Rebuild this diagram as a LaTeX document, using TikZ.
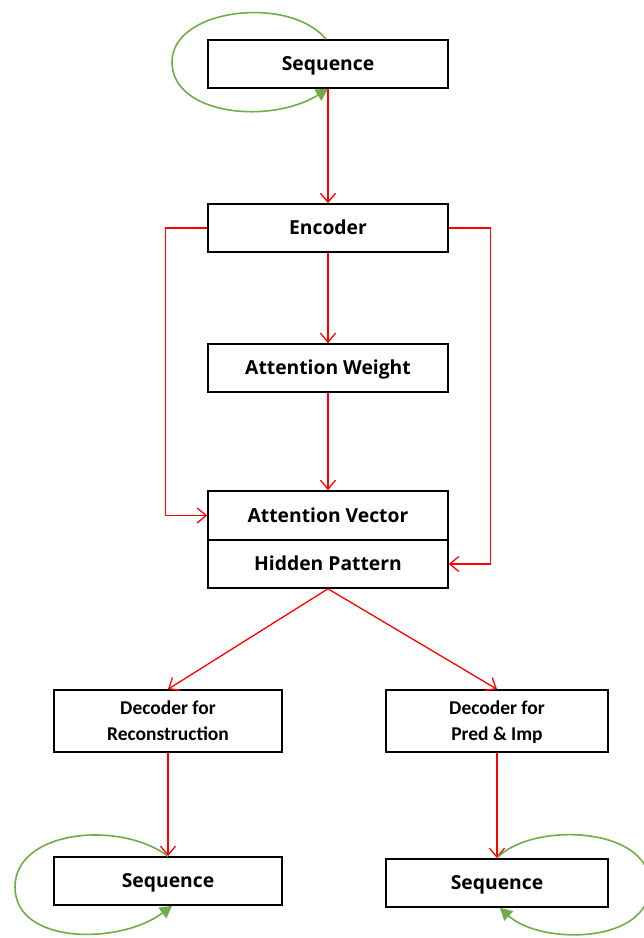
\documentclass[tikz,border=0pt]{standalone}
\usepackage{fontspec}
\setmainfont{Open Sans}
\newfontfamily\decfont{Carlito}
\usetikzlibrary{arrows.meta}
\tikzstyle{box} = [draw, line width=1.6pt, minimum width=240, minimum height=48, inner sep=0pt, text depth=1pt, font=\fontsize{19.3}{23}\selectfont\bfseries]
\tikzstyle{decbox} = [box, minimum width=228, minimum height=62, align=center, font=\decfont\fontsize{19.5}{26}\selectfont\bfseries]
\tikzstyle{arrow} = [red, line width=1.3pt, -{Straight Barb[length=9pt,width=15pt]}]
\tikzstyle{loop} = [color={rgb,255:red,112;green,173;blue,71}, line width=1.6pt, -{Triangle[length=12pt,width=13pt]}]

\begin{document}
\begin{tikzpicture}[x=1pt,y=-1pt]
\useasboundingbox (0,0) rectangle (644,938);

\node[box] (seq) at (328,64) {Sequence};
\node[box] (enc) at (328,228) {Encoder};
\node[box] (aw) at (328,368) {Attention Weight};
\node[box, minimum height=49] (av) at (328,515.5) {Attention Vector};
\node[box] (hp) at (328,564) {Hidden Pattern};
\node[decbox] (decrec) at (168,721) {Decoder for\\Reconstruction};
\node[decbox, minimum width=222] (decpred) at (497,721) {Decoder for\\Pred \& Imp};
\node[box, minimum width=228] (seql) at (168,881) {Sequence};
\node[box, minimum width=222] (seqr) at (497,883) {Sequence};

%main flow
\draw[arrow] (seq) -- (enc);
\draw[arrow] (enc) -- (aw);
\draw[arrow] (aw) -- (av);
\draw[arrow] (enc.west) -- ++(-42,0) |- (av.west);
\draw[arrow] (enc.east) -- ++(42,0) |- (hp.east);
\draw[arrow] (hp.south) -- (decrec.north);
\draw[arrow] (hp.south) -- (decpred.north);
\draw[arrow] (decrec) -- (seql);
\draw[arrow] (decpred) -- (seqr);

%self loops
\draw[loop] ([xshift=-2]seq.north) .. controls (290,-5) and (172,8) .. (172,62)
  .. controls (172,115) and (270,125) .. (seq.south);
\draw[loop] (seql.north) .. controls (120,820) and (15,830) .. (15,887)
  .. controls (15,945) and (120,945) .. ([xshift=4]seql.south);
\draw[loop] (seqr.north) .. controls (530,822) and (650,825) .. (650,885)
  .. controls (650,945) and (540,945) .. ([xshift=3]seqr.south);

\end{tikzpicture}
\end{document}
